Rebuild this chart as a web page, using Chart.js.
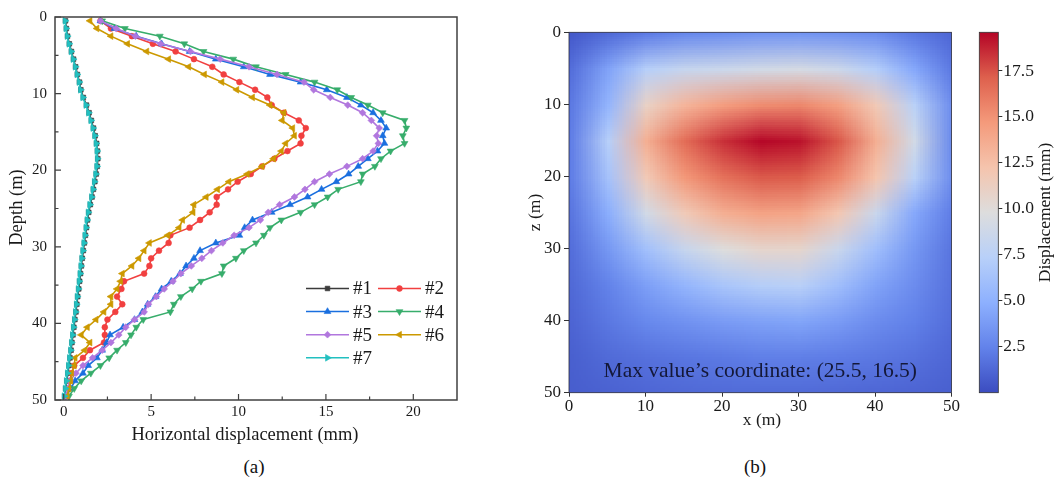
<!DOCTYPE html>
<html>
<head>
<meta charset="utf-8">
<title>Horizontal displacement profiles and displacement field</title>
<script src="https://cdn.jsdelivr.net/npm/chart.js@4.4.1/dist/chart.umd.min.js"></script>
<style>
  html, body { margin: 0; padding: 0; background: #fff; }
  #page { position: relative; width: 1058px; height: 484px; overflow: hidden; background: #fff; }
  #page canvas { position: absolute; top: 0; }
  .cap { position: absolute; top: 456px; font: 19px "Liberation Serif", "Times New Roman", serif; color: #111; transform: translateX(-50%); }
</style>
</head>
<body>
<div id="page">
  <canvas id="profiles" width="470" height="450" style="left:0"></canvas>
  <canvas id="contour" width="460" height="450" style="left:500px"></canvas>
  <canvas id="colorbar" width="98" height="450" style="left:960px"></canvas>
  <div class="cap" style="left:254px">(a)</div>
  <div class="cap" style="left:755px">(b)</div>
</div>
<script>
// ---------- (a) inclinometer profiles: depth (m) and horizontal displacement (mm) ----------
const depthM = [0.5, 1.5, 2.5, 3.5, 4.5, 5.5, 6.5, 7.5, 8.5, 9.5,
  10.5, 11.5, 12.5, 13.5, 14.5, 15.5, 16.5, 17.5, 18.5, 19.5,
  20.5, 21.5, 22.5, 23.5, 24.5, 25.5, 26.5, 27.5, 28.5, 29.5,
  30.5, 31.5, 32.5, 33.5, 34.5, 35.5, 36.5, 37.5, 38.5, 39.5,
  40.5, 41.5, 42.5, 43.5, 44.5, 45.5, 46.5, 47.5, 48.5, 49.5];

const disp1 = [0.10, 0.15, 0.22, 0.32, 0.44, 0.56, 0.68, 0.78, 0.90, 0.98,
  1.12, 1.30, 1.45, 1.58, 1.70, 1.80, 1.88, 1.93, 1.95, 1.92,
  1.86, 1.78, 1.70, 1.62, 1.52, 1.43, 1.36, 1.30, 1.24, 1.18,
  1.12, 1.06, 1.01, 0.96, 0.91, 0.86, 0.80, 0.75, 0.70, 0.64,
  0.58, 0.53, 0.47, 0.42, 0.36, 0.30, 0.24, 0.18, 0.11, 0.05];

const disp2 = [2.10, 2.70, 3.90, 5.10, 6.40, 7.45, 8.50, 9.15, 10.05, 10.95,
  11.65, 11.90, 12.60, 13.45, 13.85, 13.60, 13.55, 12.80, 12.05, 11.35,
  10.70, 9.95, 9.40, 8.75, 8.75, 8.35, 7.80, 7.20, 6.10, 6.00,
  5.45, 5.00, 4.90, 4.60, 3.45, 3.30, 3.05, 3.35, 2.95, 2.50,
  2.35, 2.35, 2.30, 1.50, 1.10, 0.60, 0.45, 0.35, 0.30, 0.15];

const disp3 = [2.10, 2.90, 4.15, 5.60, 7.20, 8.70, 10.30, 11.80, 13.55, 15.05,
  16.20, 17.00, 17.70, 18.15, 18.45, 18.25, 18.35, 17.95, 17.40, 16.85,
  16.30, 15.60, 14.75, 13.95, 12.95, 11.90, 10.80, 10.35, 10.05, 8.70,
  7.80, 7.45, 7.00, 6.65, 6.15, 5.60, 5.25, 4.80, 4.50, 4.05,
  3.40, 2.65, 2.45, 2.20, 1.90, 1.40, 1.10, 0.65, 0.40, 0.15];

const disp4 = [2.20, 3.50, 5.50, 6.90, 8.00, 9.70, 11.00, 12.70, 14.35, 15.65,
  16.45, 17.40, 18.25, 19.50, 19.60, 19.40, 19.50, 18.70, 18.15, 17.80,
  17.10, 17.00, 15.70, 15.10, 14.35, 13.55, 12.45, 11.80, 11.45, 11.00,
  10.30, 9.85, 9.15, 9.05, 7.85, 7.35, 6.70, 6.30, 6.10, 4.55,
  4.15, 3.85, 3.55, 3.05, 2.60, 2.10, 1.55, 1.00, 0.60, 0.30];

const disp5 = [2.10, 3.00, 4.10, 5.55, 7.25, 8.95, 10.60, 12.20, 13.75, 14.30,
  15.25, 16.25, 17.10, 17.60, 18.05, 17.90, 18.00, 17.70, 17.10, 16.20,
  15.20, 14.35, 13.80, 13.20, 12.35, 11.70, 11.25, 10.60, 9.75, 9.10,
  8.45, 7.90, 7.30, 6.70, 6.25, 5.75, 5.30, 4.85, 4.60, 4.05,
  3.55, 3.15, 2.70, 2.20, 1.65, 1.10, 0.70, 0.35, 0.25, 0.10];

const disp6 = [1.50, 1.90, 2.70, 3.65, 4.75, 6.00, 7.15, 8.05, 9.05, 9.90,
  10.80, 11.80, 12.60, 12.50, 13.10, 13.20, 12.70, 12.45, 12.00, 11.35,
  10.50, 9.45, 8.80, 8.15, 7.45, 7.40, 6.80, 6.60, 5.95, 4.90,
  4.60, 4.30, 3.90, 3.35, 3.25, 3.05, 2.70, 2.70, 2.30, 1.85,
  1.35, 1.00, 1.50, 1.20, 0.65, 0.60, 0.45, 0.40, 0.30, 0.20];

const disp7 = [0.08, 0.13, 0.20, 0.30, 0.42, 0.54, 0.66, 0.76, 0.88, 0.96,
  1.09, 1.27, 1.42, 1.55, 1.67, 1.77, 1.85, 1.90, 1.92, 1.89,
  1.83, 1.75, 1.67, 1.59, 1.49, 1.40, 1.33, 1.27, 1.21, 1.15,
  1.09, 1.03, 0.98, 0.93, 0.88, 0.83, 0.77, 0.72, 0.67, 0.61,
  0.55, 0.50, 0.44, 0.39, 0.33, 0.27, 0.21, 0.15, 0.09, 0.03];

const seriesNames = ['#1', '#2', '#3', '#4', '#5', '#6', '#7'];
const seriesDisp = [disp1, disp2, disp3, disp4, disp5, disp6, disp7];

const dispTicks = [0, 5, 10, 15, 20];
const dispMinorTicks = [2.5, 7.5, 12.5, 17.5];
const depthTicks = [0, 10, 20, 30, 40, 50];
const depthMinorTicks = [5, 15, 25, 35, 45];

// ---------- (b) displacement field (mm) on a 5 m grid, rows by depth z ----------
const gridX = [0, 5, 10, 15, 20, 25, 30, 35, 40, 45, 50];
const gridZ = [0, 5, 10, 15, 20, 25, 30, 35, 40, 45, 50];
const uZ00 = [0.6, 1.4, 2.2, 2.8, 3.1, 3.4, 3.5, 3.3, 3.0, 2.0, 1.2];
const uZ05 = [1.5, 4.2, 7.3, 8.3, 8.6, 9.0, 9.3, 8.7, 7.2, 4.5, 2.0];
const uZ10 = [2.0, 5.3, 11.0, 13.2, 14.5, 15.3, 15.5, 14.4, 11.8, 7.5, 3.0];
const uZ15 = [2.2, 7.3, 13.5, 16.6, 18.4, 19.5, 19.2, 17.4, 13.5, 9.0, 2.8];
const uZ20 = [2.2, 6.3, 11.8, 14.8, 16.4, 17.3, 17.2, 15.5, 12.2, 7.5, 3.0];
const uZ25 = [1.8, 4.8, 9.0, 11.7, 13.5, 14.2, 14.0, 12.0, 8.5, 4.5, 2.2];
const uZ30 = [1.5, 3.6, 6.1, 8.3, 9.8, 10.6, 10.6, 8.5, 6.0, 3.6, 1.8];
const uZ35 = [1.3, 2.5, 4.0, 5.3, 6.5, 7.2, 7.4, 6.0, 4.2, 3.0, 1.7];
const uZ40 = [1.1, 2.0, 2.8, 3.3, 3.8, 4.1, 4.3, 3.8, 3.0, 2.4, 1.5];
const uZ45 = [0.9, 1.4, 1.7, 1.9, 2.1, 2.3, 2.3, 2.2, 2.0, 1.7, 1.2];
const uZ50 = [0.8, 1.0, 1.2, 1.3, 1.4, 1.4, 1.4, 1.3, 1.2, 1.1, 0.9];
const fieldRows = [uZ00, uZ05, uZ10, uZ15, uZ20, uZ25, uZ30, uZ35, uZ40, uZ45, uZ50];

const planTicks = [0, 10, 20, 30, 40, 50];
const cbTicks = [2.5, 5, 7.5, 10, 12.5, 15, 17.5];
const cbMin = 0;
const cbMax = 19.6;
const maxX = 25.5;
const maxZ = 16.5;

// ---------- styling ----------
const serif = '"Liberation Serif", "Times New Roman", serif';
const seriesColors = ['#3b3b3b', '#F14040', '#1A6FDF', '#37AD6B', '#B177DE', '#CC9900', '#22C0C0'];
const seriesMarkers = [['rect', 0, 3.3], ['circle', 0, 2.9], ['triangle', 0, 3.9], ['triangle', 180, 3.9],
                       ['rectRot', 0, 3.4], ['triangle', 270, 3.9], ['triangle', 90, 3.9]];

// matplotlib "coolwarm" control points
const coolwarmStops = [
  [0.000, 59, 76, 192], [0.125, 98, 130, 234], [0.250, 141, 176, 254],
  [0.375, 184, 208, 249], [0.500, 221, 221, 221], [0.625, 245, 196, 173],
  [0.750, 244, 154, 123], [0.875, 222, 96, 77], [1.000, 180, 4, 38]
];
function coolwarm(t) {
  t = Math.max(0, Math.min(1, t));
  for (let i = 1; i < coolwarmStops.length; i++) {
    const b = coolwarmStops[i];
    if (t <= b[0]) {
      const a = coolwarmStops[i - 1];
      const f = (t - a[0]) / (b[0] - a[0]);
      return [1, 2, 3].map(k => Math.round(a[k] + (b[k] - a[k]) * f));
    }
  }
  const l = coolwarmStops[coolwarmStops.length - 1];
  return [l[1], l[2], l[3]];
}

Chart.defaults.font.family = serif;
Chart.defaults.color = '#1a1a1a';
Chart.defaults.animation = false;
Chart.defaults.events = [];
Chart.defaults.plugins.legend.display = false;
Chart.defaults.plugins.tooltip.enabled = false;

function drawLabel(ctx, t) {
  ctx.save();
  ctx.font = `${t.size}px ${serif}`;
  ctx.fillStyle = t.color || '#1a1a1a';
  ctx.textAlign = 'center';
  ctx.textBaseline = 'middle';
  ctx.translate(t.x, t.y);
  if (t.rot) ctx.rotate(t.rot * Math.PI / 180);
  ctx.fillText(t.text, 0, 0);
  ctx.restore();
}

const axisTitles = {
  id: 'axisTitles',
  afterDraw(chart, args, opts) {
    (opts.items || []).forEach(t => drawLabel(chart.ctx, t));
  }
};

// box frame with inward major/minor ticks
const profileFrame = {
  id: 'profileFrame',
  afterDatasetsDraw(chart) {
    const { ctx, chartArea: a, scales: { x, y } } = chart;
    ctx.save();
    ctx.strokeStyle = '#404040';
    ctx.lineWidth = 1.5;
    ctx.strokeRect(a.left, a.top, a.right - a.left, a.bottom - a.top);
    ctx.lineWidth = 1.2;
    ctx.beginPath();
    const xt = (vals, len) => vals.forEach(v => {
      const px = x.getPixelForValue(v);
      ctx.moveTo(px, a.bottom); ctx.lineTo(px, a.bottom - len);
    });
    const yt = (vals, len) => vals.forEach(v => {
      const py = y.getPixelForValue(v);
      ctx.moveTo(a.left, py); ctx.lineTo(a.left + len, py);
    });
    xt(dispTicks, 6); xt(dispMinorTicks, 3.5);
    yt(depthTicks, 6); yt(depthMinorTicks, 3.5);
    ctx.stroke();
    ctx.restore();
  }
};

// two-column legend inside the plot
const insetLegend = {
  id: 'insetLegend',
  afterDatasetsDraw(chart) {
    const ctx = chart.ctx;
    chart.data.datasets.forEach((ds, i) => {
      const col = i % 2, row = Math.floor(i / 2);
      const lx = col ? 378 : 306;
      const ly = 288.5 + row * 23.1;
      ctx.save();
      ctx.strokeStyle = ds.borderColor;
      ctx.lineWidth = 1.5;
      ctx.beginPath(); ctx.moveTo(lx, ly); ctx.lineTo(lx + 43, ly); ctx.stroke();
      ctx.fillStyle = ds.pointBackgroundColor;
      ctx.strokeStyle = ds.pointBorderColor;
      ctx.lineWidth = ds.pointBorderWidth;
      Chart.helpers.drawPoint(ctx, {
        pointStyle: ds.pointStyle, rotation: ds.pointRotation,
        radius: ds.pointRadius, borderWidth: ds.pointBorderWidth
      }, lx + 21.5, ly);
      ctx.font = `19px ${serif}`;
      ctx.fillStyle = '#1a1a1a';
      ctx.textAlign = 'left';
      ctx.textBaseline = 'middle';
      ctx.fillText(ds.label, lx + 47, ly + 1);
      ctx.restore();
    });
  }
};

const profileSets = seriesNames.map((name, i) => ({
  label: name,
  data: depthM.map((d, k) => ({ x: seriesDisp[i][k], y: d })),
  showLine: true,
  borderColor: seriesColors[i],
  borderWidth: 1.6,
  pointBackgroundColor: seriesColors[i],
  pointBorderColor: seriesColors[i],
  pointBorderWidth: 0.6,
  pointStyle: seriesMarkers[i][0],
  pointRotation: seriesMarkers[i][1],
  pointRadius: seriesMarkers[i][2],
  order: seriesNames.length - i,
  clip: false
}));

new Chart(document.getElementById('profiles'), {
  type: 'scatter',
  data: { datasets: profileSets },
  options: {
    responsive: false,
    layout: { padding: { top: 15.5, right: 13, left: 0, bottom: 0 } },
    scales: {
      x: {
        type: 'linear', position: 'bottom', min: -0.5, max: 22.5,
        afterBuildTicks: s => { s.ticks = dispTicks.map(v => ({ value: v })); },
        afterFit: s => { s.height = 50; },
        grid: { display: false, drawTicks: false },
        border: { display: false },
        ticks: { font: { size: 15 }, padding: 3, maxRotation: 0, autoSkip: false }
      },
      y: {
        type: 'linear', position: 'left', reverse: true, min: 0, max: 50,
        afterBuildTicks: s => { s.ticks = depthTicks.map(v => ({ value: v })); },
        afterFit: s => { s.width = 55; },
        grid: { display: false, drawTicks: false },
        border: { display: false },
        ticks: { font: { size: 15 }, padding: 8, autoSkip: false }
      }
    },
    plugins: {
      axisTitles: {
        items: [
          { text: 'Horizontal displacement (mm)', x: 245, y: 435, size: 18.5 },
          { text: 'Depth (m)', x: 17.5, y: 207.5, size: 18.5, rot: -90 }
        ]
      }
    }
  },
  plugins: [profileFrame, insetLegend, axisTitles]
});

// field image drawn on the x/z scales, plus the annotation
const fieldImage = {
  id: 'fieldImage',
  beforeDatasetsDraw(chart) {
    const { ctx, chartArea: a, scales: { x, y } } = chart;
    const nx = gridX.length, nz = gridZ.length;
    const src = document.createElement('canvas');
    src.width = nx; src.height = nz;
    const sctx = src.getContext('2d');
    const img = sctx.createImageData(nx, nz);
    fieldRows.forEach((row, j) => row.forEach((v, i) => {
      const c = coolwarm((v - cbMin) / (cbMax - cbMin));
      const k = 4 * (j * nx + i);
      img.data[k] = c[0]; img.data[k + 1] = c[1]; img.data[k + 2] = c[2]; img.data[k + 3] = 255;
    }));
    sctx.putImageData(img, 0, 0);
    const hx = (gridX[1] - gridX[0]) / 2, hz = (gridZ[1] - gridZ[0]) / 2;
    const x0 = x.getPixelForValue(gridX[0] - hx), x1 = x.getPixelForValue(gridX[nx - 1] + hx);
    const y0 = y.getPixelForValue(gridZ[0] - hz), y1 = y.getPixelForValue(gridZ[nz - 1] + hz);
    ctx.save();
    ctx.beginPath();
    ctx.rect(a.left, a.top, a.right - a.left, a.bottom - a.top);
    ctx.clip();
    ctx.imageSmoothingEnabled = true;
    ctx.imageSmoothingQuality = 'low';
    ctx.drawImage(src, x0, y0, x1 - x0, y1 - y0);
    ctx.restore();

    ctx.save();
    ctx.strokeStyle = '#2b2b3b';
    ctx.lineWidth = 0.8;
    ctx.strokeRect(a.left, a.top, a.right - a.left, a.bottom - a.top);
    ctx.restore();

    drawLabel(ctx, {
      text: `Max value\u2019s coordinate: (${maxX}, ${maxZ})`,
      x: x.getPixelForValue(25), y: y.getPixelForValue(47.1),
      size: 21.5, color: '#141838'
    });
  }
};

new Chart(document.getElementById('contour'), {
  type: 'scatter',
  data: { datasets: [] },
  options: {
    responsive: false,
    layout: { padding: { top: 32.3, right: 4.3, left: 0, bottom: 0 } },
    scales: {
      x: {
        type: 'linear', position: 'bottom', min: 0, max: 50,
        afterBuildTicks: s => { s.ticks = planTicks.map(v => ({ value: v })); },
        afterFit: s => { s.height = 57.3; },
        grid: { display: true, drawOnChartArea: false, drawTicks: true, tickLength: 4, color: '#333', lineWidth: 1 },
        border: { display: false },
        ticks: { font: { size: 17 }, padding: 0, maxRotation: 0, autoSkip: false }
      },
      y: {
        type: 'linear', position: 'left', reverse: true, min: 0, max: 50,
        afterBuildTicks: s => { s.ticks = planTicks.map(v => ({ value: v })); },
        afterFit: s => { s.width = 69; },
        grid: { display: true, drawOnChartArea: false, drawTicks: true, tickLength: 5, color: '#333', lineWidth: 1 },
        border: { display: false },
        ticks: { font: { size: 17 }, padding: 3, autoSkip: false }
      }
    },
    plugins: {
      axisTitles: {
        items: [
          { text: 'x (m)', x: 262, y: 420, size: 17.5 },
          { text: 'z (m)', x: 35, y: 212.5, size: 17.5, rot: -90 }
        ]
      }
    }
  },
  plugins: [fieldImage, axisTitles]
});

// colour bar filled along its own value scale
const colorbarFill = {
  id: 'colorbarFill',
  beforeDatasetsDraw(chart) {
    const { ctx, chartArea: a, scales: { y } } = chart;
    const g = ctx.createLinearGradient(0, y.getPixelForValue(cbMin), 0, y.getPixelForValue(cbMax));
    coolwarmStops.forEach(s => g.addColorStop(s[0], `rgb(${s[1]},${s[2]},${s[3]})`));
    ctx.save();
    ctx.fillStyle = g;
    ctx.fillRect(a.left, a.top, a.right - a.left, a.bottom - a.top);
    ctx.strokeStyle = '#333';
    ctx.lineWidth = 0.8;
    ctx.strokeRect(a.left, a.top, a.right - a.left, a.bottom - a.top);
    ctx.restore();
  }
};

new Chart(document.getElementById('colorbar'), {
  type: 'scatter',
  data: { datasets: [] },
  options: {
    responsive: false,
    layout: { padding: { top: 32.3, right: 0, left: 19.3, bottom: 57.3 } },
    scales: {
      x: { type: 'linear', display: false, min: 0, max: 1 },
      y: {
        type: 'linear', position: 'right', min: cbMin, max: cbMax,
        afterBuildTicks: s => { s.ticks = cbTicks.map(v => ({ value: v })); },
        afterFit: s => { s.width = 59.7; },
        grid: { display: true, drawOnChartArea: false, drawTicks: true, tickLength: 4, color: '#333', lineWidth: 1 },
        border: { display: false },
        ticks: { font: { size: 17.5 }, padding: 1, autoSkip: false, callback: v => Number(v).toFixed(1) }
      }
    },
    plugins: {
      axisTitles: {
        items: [{ text: 'Displacement (mm)', x: 85, y: 212.5, size: 17.5, rot: -90 }]
      }
    }
  },
  plugins: [colorbarFill, axisTitles]
});
</script>
</body>
</html>
